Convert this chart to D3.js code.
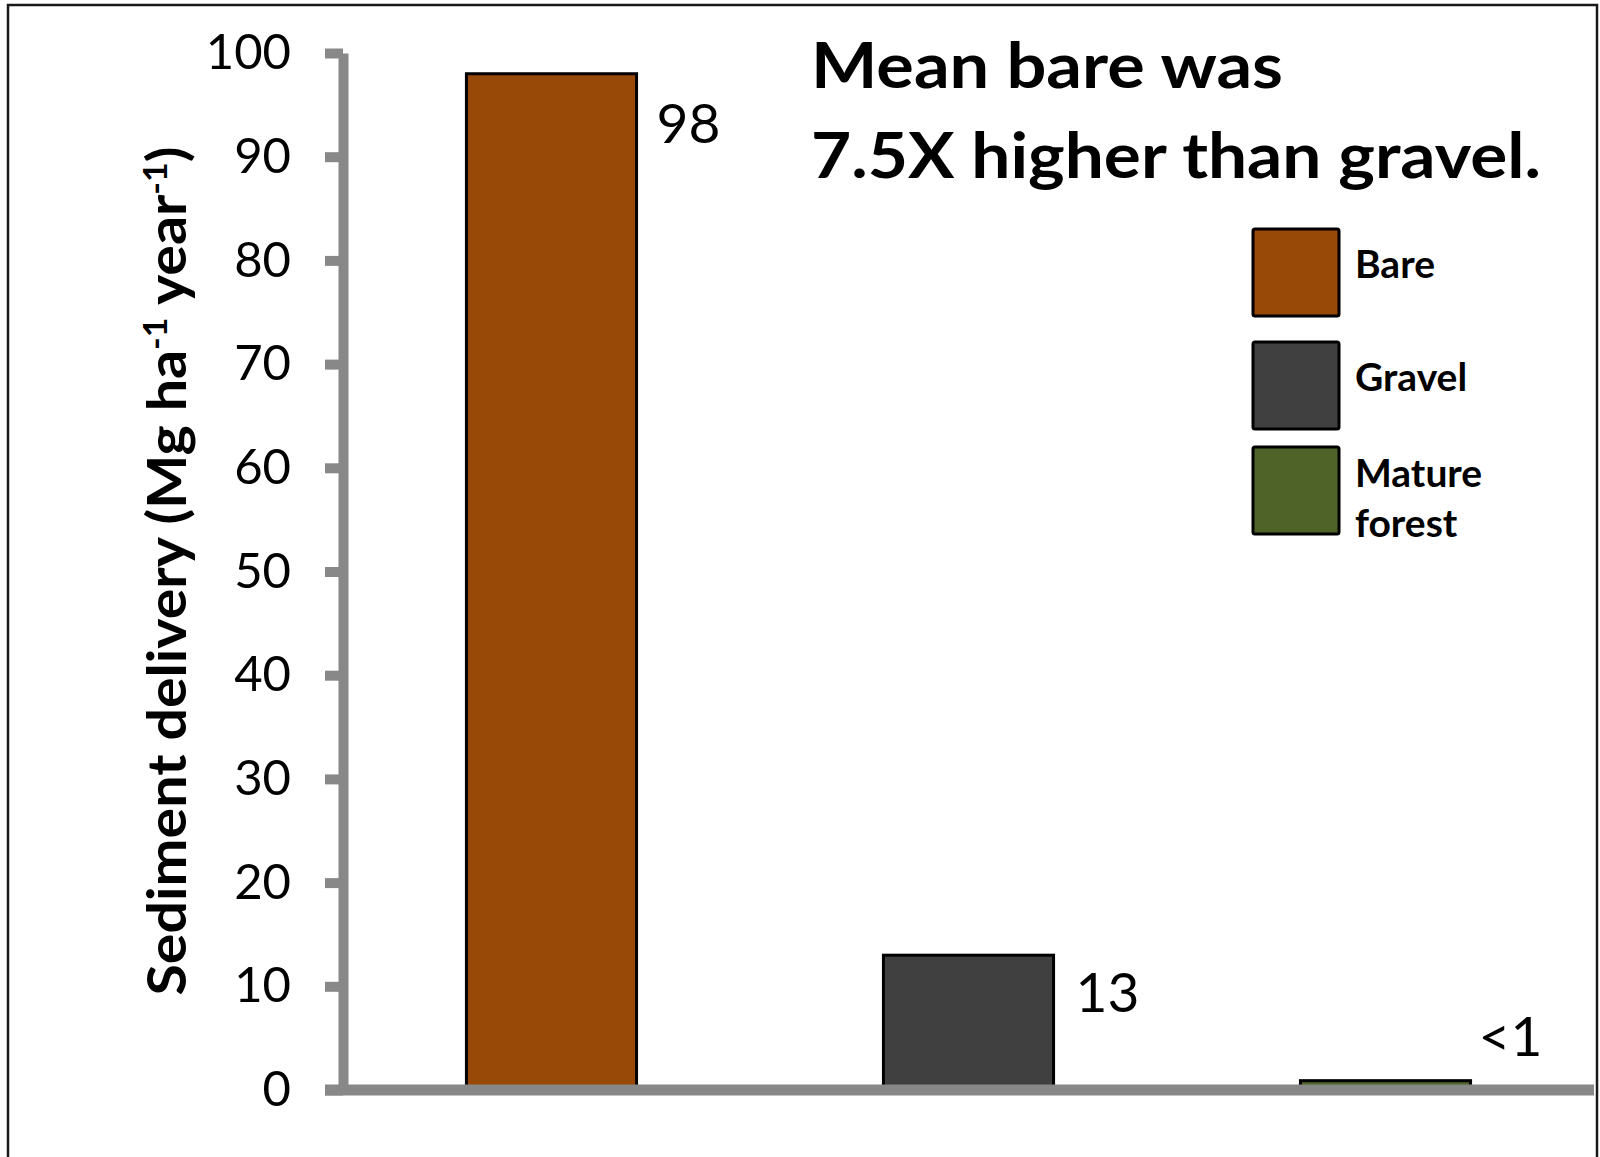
<!DOCTYPE html>
<html>
<head>
<meta charset="utf-8">
<script src="https://cdn.jsdelivr.net/npm/d3@7"></script>
<style>
  html, body { margin: 0; padding: 0; background: #fff; }
  svg { display: block; }
  text { font-family: Lato, "Open Sans", sans-serif; fill: #000; }
</style>
</head>
<body>
<svg id="chart" width="1600" height="1157"></svg>
<script>
// ---- data ----
const categories = ["Bare", "Gravel", "Mature forest"];
const values = [98, 13, 0.9];
const valueLabels = ["98", "13", "<1"];
const barColors = ["#984807", "#404040", "#4F6228"];
const yTicks = [0, 10, 20, 30, 40, 50, 60, 70, 80, 90, 100];
const legendLines = [["Bare"], ["Gravel"], ["Mature", "forest"]];
const titleLines = ["Mean bare was", "7.5X higher than gravel."];

// ---- layout ----
const svg = d3.select("#chart");
const axisGray = "#888888";

svg.append("rect")
  .attr("x", 8).attr("y", 5).attr("width", 1589).attr("height", 1200)
  .attr("fill", "none").attr("stroke", "#1a1a1a").attr("stroke-width", 2.5);

const y = d3.scaleLinear().domain([0, 100]).range([1090, 53]);
const x = d3.scaleBand().domain(categories).range([343, 1594])
  .paddingInner(0.592).paddingOuter(0.296);

// bars
svg.append("g").selectAll("rect")
  .data(categories)
  .join("rect")
  .attr("x", d => x(d))
  .attr("y", (d, i) => y(values[i]))
  .attr("width", x.bandwidth())
  .attr("height", (d, i) => y(0) - y(values[i]))
  .attr("fill", (d, i) => barColors[i])
  .attr("stroke", "#000")
  .attr("stroke-width", 3);

// y axis
const yAxis = svg.append("g")
  .attr("transform", "translate(343,0)")
  .call(d3.axisLeft(y).tickValues(yTicks).tickSize(18).tickSizeOuter(0).tickPadding(34));
yAxis.select(".domain").attr("stroke", axisGray).attr("stroke-width", 10);
yAxis.selectAll(".tick line").attr("stroke", axisGray).attr("stroke-width", 10);
yAxis.selectAll(".tick text")
  .style("font-family", "Lato, sans-serif")
  .style("font-size", "49px")
  .attr("fill", "#000");

// x axis baseline
svg.append("line")
  .attr("x1", 325).attr("x2", 1594)
  .attr("y1", y(0)).attr("y2", y(0))
  .attr("stroke", axisGray).attr("stroke-width", 11);

// value labels
const labelDx = [20, 22, 8];
const labelDy = [69, 57, -25];
svg.append("g").selectAll("text")
  .data(categories)
  .join("text")
  .attr("x", (d, i) => x(d) + x.bandwidth() + labelDx[i])
  .attr("y", (d, i) => y(values[i]) + labelDy[i])
  .style("font-size", "55px")
  .text((d, i) => valueLabels[i]);

// y axis title
const yt = svg.append("text")
  .attr("transform", "translate(186,571) rotate(-90)")
  .attr("text-anchor", "middle")
  .style("font-size", "54px")
  .style("font-weight", "bold")
  .attr("textLength", 849)
  .attr("lengthAdjust", "spacingAndGlyphs");
yt.append("tspan").text("Sediment delivery (Mg ha");
yt.append("tspan").attr("baseline-shift", "super").style("font-size", "32px").text("-1");
yt.append("tspan").text(" year");
yt.append("tspan").attr("baseline-shift", "super").style("font-size", "32px").text("-1");
yt.append("tspan").text(")");

// title
const titleWidths = [472, 730];
const titleBase = [88, 178];
svg.append("g").selectAll("text")
  .data(titleLines)
  .join("text")
  .attr("x", 811)
  .attr("y", (d, i) => titleBase[i])
  .style("font-size", "63px")
  .style("font-weight", "bold")
  .attr("textLength", (d, i) => titleWidths[i])
  .attr("lengthAdjust", "spacingAndGlyphs")
  .text(d => d);

// legend
const swY = [229, 342, 447];
const lg = svg.append("g");
categories.forEach((c, i) => {
  lg.append("rect")
    .attr("x", 1253).attr("y", swY[i])
    .attr("width", 86).attr("height", 87)
    .attr("rx", 2)
    .attr("fill", barColors[i])
    .attr("stroke", "#000").attr("stroke-width", 3);
  const lines = legendLines[i];
  const firstBase = lines.length === 1 ? swY[i] + 49 : swY[i] + 40;
  lines.forEach((ln, j) => {
    lg.append("text")
      .attr("x", 1355)
      .attr("y", firstBase + j * 50)
      .style("font-size", "39px")
      .style("font-weight", "bold")
      .text(ln);
  });
});
</script>
</body>
</html>
